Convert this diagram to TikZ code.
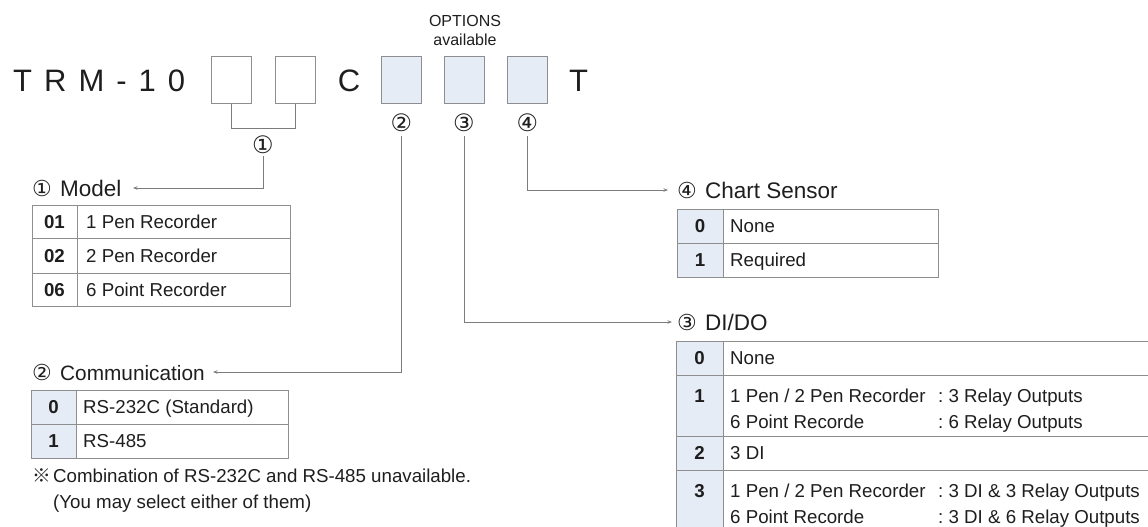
\documentclass[tikz,border=0pt]{standalone}
\usepackage{fontspec}
\setmainfont{Liberation Sans}
\newfontfamily\circfont{DejaVu Sans}
\newfontfamily\cjkfont{Noto Sans CJK SC}
\usetikzlibrary{arrows.meta}
\definecolor{ink}{HTML}{1E1E1E}
\definecolor{rulegray}{HTML}{8E8E8E}
\definecolor{shadecol}{HTML}{E6ECF5}
\definecolor{wire}{HTML}{7C7C7C}
\newcommand{\bigfnt}{\fontsize{31}{36}\selectfont}
\newcommand{\headfnt}{\fontsize{22.5}{27}\selectfont}
\newcommand{\bodyfnt}{\fontsize{18.7}{22}\selectfont}
\newcommand{\optfnt}{\fontsize{16}{19}\selectfont}
\newcommand{\cnum}[1]{{\circfont\fontsize{24}{26}\selectfont #1}}
\newcommand{\hnum}[1]{\makebox[28pt][l]{\circfont\fontsize{22}{24}\selectfont #1}}
\begin{document}
\begin{tikzpicture}[x=1pt,y=-1pt,
  every node/.style={text=ink, inner sep=0pt},
  wbox/.style={draw=rulegray, line width=1pt, fill=white, minimum width=40pt, minimum height=46pt},
  sbox/.style={wbox, fill=shadecol},
  tx/.style={anchor=base west, font=\bodyfnt},
  cd/.style={anchor=base, font=\bodyfnt\bfseries},
  hd/.style={anchor=base west, font=\headfnt},
  grid/.style={draw=rulegray, line width=1pt},
  wireline/.style={draw=wire, line width=0.9pt},
  tip/.style={wireline, -{Stealth[length=4.5pt,width=3.5pt]}},
]
\useasboundingbox (0,0) rectangle (1148,527);
\clip (0,0) rectangle (1148,527);

% ---- code line ----
\node[anchor=base west, font=\bigfnt] (trm) at (13,92) {T\kern12pt R\kern12pt M\kern12pt -\kern12pt 1\kern12pt 0};
\node[wbox] (b1) at (231.5,80) {};
\node[wbox] (b2) at (295,80) {};
\node[anchor=base, font=\bigfnt] (cc) at (349,92) {C};
\node[sbox] (b3) at (401.5,80) {};
\node[sbox] (b4) at (464,80) {};
\node[sbox] (b5) at (527.5,80) {};
\node[anchor=base, font=\bigfnt] (tt) at (578.5,92) {T};
\node[anchor=base, font=\optfnt] (opt) at (465,27) {OPTIONS};
\node[anchor=base, font=\optfnt] (avl) at (465,46) {available};

\draw[wireline] (b1.south) -- ++(0,25) -| (b2.south);

\node (c1) at (263,145) {\cnum{①}};
\node (c2) at (401.5,123) {\cnum{②}};
\node (c3) at (464,123) {\cnum{③}};
\node (c4) at (527.5,123) {\cnum{④}};

% ---- headings ----
\node[hd] (h1) at (32,196) {\hnum{①}Model};
\node[hd, font=\fontsize{20.8}{25}\selectfont] (h2) at (32,380) {\hnum{②}Communication};
\node[hd] (h4) at (677,198) {\hnum{④}Chart Sensor};
\node[hd] (h3) at (677,330) {\hnum{③}DI/DO};

% ---- connectors ----
\coordinate (e1) at (133,188);
\coordinate (e2) at (213,372);
\coordinate (e3) at (672,322);
\coordinate (e4) at (668,190);
\draw[tip, shorten <=2pt] (c1.south) |- (e1);
\draw[tip, shorten <=4pt] (c2.south) |- (e2);
\draw[tip, shorten <=4pt] (c3.south) |- (e3);
\draw[tip, shorten <=4pt] (c4.south) |- (e4);

% ---- Model table ----
\draw[grid] (32,205) rectangle (290,306);
\draw[grid] (77,205) -- (77,306) (32,238) -- (290,238) (32,273) -- (290,273);
\node[cd] (m01) at (54.5,228) {01};
\node[cd] (m02) at (54.5,262) {02};
\node[cd] (m06) at (54.5,296) {06};
\node[tx] (m1t) at (86,228) {1 Pen Recorder};
\node[tx] (m2t) at (86,262) {2 Pen Recorder};
\node[tx] (m6t) at (86,296) {6 Point Recorder};

% ---- Communication table ----
\fill[shadecol] (31,390) rectangle (76,458);
\draw[grid] (31,390) rectangle (288,458);
\draw[grid] (76,390) -- (76,458) (31,424) -- (288,424);
\node[cd] (k0) at (53.5,413.5) {0};
\node[cd] (k1) at (53.5,447.5) {1};
\node[tx] (k0t) at (83,413.5) {RS-232C (Standard)};
\node[tx] (k1t) at (83,447.5) {RS-485};
\node[tx] (nm) at (32,482) {{\cjkfont ※}};
\node[tx] (n1) at (53,482) {Combination of RS-232C and RS-485 unavailable.};
\node[tx] (n2) at (53,508) {(You may select either of them)};

% ---- Chart Sensor table ----
\fill[shadecol] (677,209) rectangle (723,277);
\draw[grid] (677,209) rectangle (938,277);
\draw[grid] (723,209) -- (723,277) (677,243) -- (938,243);
\node[cd] (s0) at (700,232.5) {0};
\node[cd] (s1) at (700,266.5) {1};
\node[tx] (s0t) at (730,232.5) {None};
\node[tx] (s1t) at (730,266.5) {Required};

% ---- DI/DO table ----
\fill[shadecol] (676,341) rectangle (723,545);
\draw[grid] (1160,341) -- (676,341) -- (676,545);
\draw[grid] (723,341) -- (723,545);
\draw[grid] (676,375) -- (1160,375) (676,436) -- (1160,436) (676,470) -- (1160,470);
\node[cd] (d0) at (699.5,364.5) {0};
\node[cd] (d1) at (699.5,402) {1};
\node[cd] (d2) at (699.5,459.5) {2};
\node[cd] (d3) at (699.5,497) {3};
\node[tx] (d0t) at (730,364.5) {None};
\node[tx] (d1a) at (730,402) {1 Pen / 2 Pen Recorder};
\node[tx] (d1b) at (938,402) {:\ 3 Relay Outputs};
\node[tx] (d1c) at (730,428) {6 Point Recorde};
\node[tx] (d1d) at (938,428) {:\ 6 Relay Outputs};
\node[tx] (d2t) at (730,459.5) {3 DI};
\node[tx] (d3a) at (730,497) {1 Pen / 2 Pen Recorder};
\node[tx] (d3b) at (938,497) {:\ 3 DI \& 3 Relay Outputs};
\node[tx] (d3c) at (730,523) {6 Point Recorde};
\node[tx] (d3d) at (938,523) {:\ 3 DI \& 6 Relay Outputs};
\end{tikzpicture}
\end{document}
